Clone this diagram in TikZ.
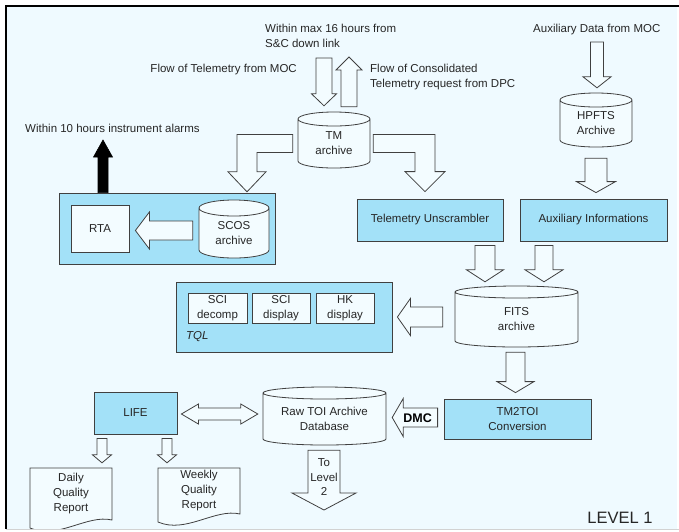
\documentclass[tikz,border=0pt]{standalone}
\usepackage{fontspec}
\setmainfont{Liberation Sans}
\usetikzlibrary{calc}

\definecolor{paper}{RGB}{239,250,255}
\definecolor{boxblue}{RGB}{163,225,248}
\definecolor{pale}{RGB}{243,252,255}
\definecolor{edge}{RGB}{64,64,64}
\definecolor{ink}{RGB}{38,38,38}

% hollow block arrow, vertical: start, tip, shaft half, head half, head length
\newcommand{\vblock}[6][blockarrow]{%
  \draw[#1] let \p1=#2, \p2=#3, \n1={sign(\y2-\y1)}, \n2={\y2-\n1*#6} in
    (\x1-#4,\y1) -- (\x1+#4,\y1) -- (\x1+#4,\n2) -- (\x1+#5,\n2)
    -- (\x1,\y2) -- (\x1-#5,\n2) -- (\x1-#4,\n2) -- cycle;}
% same, horizontal
\newcommand{\hblock}[6][blockarrow]{%
  \draw[#1] let \p1=#2, \p2=#3, \n1={sign(\x2-\x1)}, \n2={\x2-\n1*#6} in
    (\x1,\y1-#4) -- (\x1,\y1+#4) -- (\n2,\y1+#4) -- (\n2,\y1+#5)
    -- (\x2,\y1) -- (\n2,\y1-#5) -- (\n2,\y1-#4) -- cycle;}
% two heads: left tip, right tip, shaft half, head half, head length
\newcommand{\hboth}[5]{%
  \draw[blockarrow] let \p1=#1, \p2=#2 in
    (\x1,\y1) -- (\x1+#5,\y1+#4) -- (\x1+#5,\y1+#3) -- (\x2-#5,\y1+#3) -- (\x2-#5,\y1+#4)
    -- (\x2,\y1) -- (\x2-#5,\y1-#4) -- (\x2-#5,\y1-#3) -- (\x1+#5,\y1-#3) -- (\x1+#5,\y1-#4) -- cycle;}
% band sideways, then down: start, tip, band half, shaft half, head half, head length
\newcommand{\elbow}[6]{%
  \draw[blockarrow] let \p1=#1, \p2=#2, \n1={sign(\x2-\x1)},
      \n2={\x2+\n1*#4}, \n3={\x2-\n1*#4}, \n4={\x2+\n1*#5}, \n5={\x2-\n1*#5} in
    (\x1,\y1+#3) -- (\n2,\y1+#3) -- (\n2,\y2+#6) -- (\n4,\y2+#6)
    -- (\x2,\y2) -- (\n5,\y2+#6) -- (\n3,\y2+#6) -- (\n3,\y1-#3)
    -- (\x1,\y1-#3) -- cycle;}
% archive drum: name, centre, width, height, ellipse radius, text
\newcommand{\drum}[6]{%
  \draw[drumline] let \p1=(#2) in
    (\x1-#3/2,\y1+#4/2) -- (\x1-#3/2,\y1-#4/2+#5)
    arc[start angle=180, end angle=360, x radius=#3/2, y radius=#5]
    -- (\x1+#3/2,\y1+#4/2)
    arc[start angle=0, end angle=180, x radius=#3/2, y radius=#5] -- cycle
    (\x1-#3/2,\y1+#4/2) arc[start angle=180, end angle=360, x radius=#3/2, y radius=#5];
  \node[txt, minimum width=#3, minimum height=#4] (#1) at (#2) {#6};}
% report sheet with wavy foot: name, centre, width, height, text
\newcommand{\sheet}[5]{%
  \draw[sheetline] let \p1=(#2) in
    (\x1-#3/2,\y1+#4/2) -- (\x1+#3/2,\y1+#4/2) -- (\x1+#3/2,\y1-#4/2)
    .. controls (\x1+#3/2-25pt,\y1-#4/2+6pt) and (\x1-#3/2+28pt,\y1-#4/2-20pt) .. (\x1-#3/2,\y1-#4/2-8pt)
    -- cycle;
  \node[txt, minimum width=#3, minimum height=#4] (#1) at (#2) {#5};}

\begin{document}
\begin{tikzpicture}[x=1pt, y=1pt,
  txt/.style={font=\fontsize{11.5}{15}\selectfont, text=ink, inner sep=0pt, align=center},
  bluebox/.style={txt, draw=edge, fill=boxblue, line width=0.8pt},
  palebox/.style={txt, draw=edge, fill=pale, line width=0.8pt},
  blockarrow/.style={draw=edge, fill=pale, line width=0.8pt, line join=miter},
  alarmarrow/.style={draw=black, fill=black, line width=0.6pt},
  drumline/.style={draw=edge, fill=pale, line width=0.8pt},
  sheetline/.style={draw=edge, fill=pale, line width=0.8pt}
]
\useasboundingbox (0,0) rectangle (679,-531);
\fill[paper] (6,-6) rectangle (677,-528.5);
\begin{scope}
\clip (6,-6) rectangle (677,-528.5);
% free ends
\coordinate (tmin) at (324,-58);
\coordinate (tmout) at (349,-57);
\coordinate (auxin) at (597,-42);
\coordinate (alarm) at (103,-140);
\coordinate (lvl2) at (324,-510);

% texts
\node[txt, anchor=west, align=left] (late) at (265,-35.5) {Within max 16 hours from\\S\&C down link};
\node[txt, anchor=east] (tmflow) at (297,-70) {Flow of Telemetry from MOC};
\node[txt, anchor=west, align=left] (dpcflow) at (370,-77.5) {Flow of Consolidated\\Telemetry request from DPC};
\node[txt, anchor=west] (alarmtxt) at (25,-128) {Within 10 hours instrument alarms};
\node[txt, anchor=west] (auxtxt) at (533,-30) {Auxiliary Data from MOC};
\node[txt, font=\fontsize{16.5}{18}\selectfont] (level) at (620,-518) {LEVEL 1};

% boxes
\node[bluebox, minimum width=216pt, minimum height=71pt] (rtabox) at (167,-228.5) {};
\node[palebox, minimum width=58pt, minimum height=47pt] (rta) at (100,-228.5) {RTA};
\node[bluebox, minimum width=216pt, minimum height=70pt] (tql) at (284,-317) {};
\node[palebox, minimum width=59pt, minimum height=30pt] (scidec) at (217.5,-308) {SCI\\decomp};
\node[palebox, minimum width=58pt, minimum height=30pt] (scidisp) at (281,-308) {SCI\\display};
\node[palebox, minimum width=58pt, minimum height=30pt] (hkdisp) at (345,-308) {HK\\display};
\node[txt, font=\fontsize{11.5}{15}\selectfont\itshape, anchor=west] (tqlname) at (186,-337) {TQL};
\node[bluebox, minimum width=146pt, minimum height=42pt] (tu) at (430,-220) {Telemetry Unscrambler};
\node[bluebox, minimum width=147pt, minimum height=42pt] (ai) at (593.5,-220) {Auxiliary Informations};
\node[bluebox, minimum width=147pt, minimum height=40pt] (tm2toi) at (517.5,-419) {TM2TOI\\Conversion};
\node[bluebox, minimum width=83pt, minimum height=42pt] (life) at (135.5,-413) {LIFE};

% archives
\drum{tm}{334,-143.5}{72pt}{49pt}{7pt}{TM\\archive}
\drum{hpfts}{596,-123.5}{72pt}{47pt}{7pt}{HPFTS\\Archive}
\drum{scos}{234,-233}{70pt}{50pt}{8pt}{SCOS\\archive}
\drum{fits}{516.5,-319.5}{123pt}{55pt}{6pt}{FITS\\archive}
\drum{raw}{324.5,-419}{123pt}{52pt}{6pt}{Raw TOI Archive\\Database}

% reports
\sheet{daily}{71,-494}{82pt}{52pt}{Daily\\Quality\\Report}
\sheet{weekly}{199,-491}{82pt}{46pt}{Weekly\\Quality\\Report}

% flows
\vblock{(tmin)}{([yshift=13pt]tm.north)}{8pt}{12.5pt}{12pt}
\vblock{([xshift=15pt,yshift=12pt]tm.north)}{(tmout)}{8pt}{13pt}{13pt}
\elbow{([xshift=-5pt]tm.west)}{([xshift=13pt,yshift=16pt]scos.north)}{9pt}{10pt}{19pt}{20pt}
\elbow{([xshift=3pt]tm.east)}{([xshift=-5pt,yshift=7pt]tu.north)}{9pt}{10pt}{20pt}{20pt}
\vblock[alarmarrow]{([xshift=-64pt]rtabox.north)}{(alarm)}{5pt}{9.5pt}{17pt}
\hblock{([xshift=-6pt,yshift=2.5pt]scos.west)}{([xshift=6pt]rta.east)}{9.5pt}{18.5pt}{14pt}
\vblock{(auxin)}{([yshift=12pt]hpfts.north)}{6.5pt}{14pt}{11pt}
\vblock{([yshift=-11pt]hpfts.south)}{([yshift=6pt]ai.north)}{11pt}{19.5pt}{11pt}
\vblock{([xshift=55pt,yshift=-4pt]tu.south)}{([yshift=10pt]fits.north)}{10pt}{18.5pt}{12pt}
\vblock{([xshift=-49.5pt,yshift=-4pt]ai.south)}{([yshift=10pt]fits.north)}{9pt}{19pt}{12pt}
\hblock{([xshift=-12pt,yshift=2.5pt]fits.west)}{([xshift=5pt]tql.east)}{10pt}{18.5pt}{13pt}
\vblock{([xshift=-1pt,yshift=-5pt]fits.south)}{([yshift=6pt]tm2toi.north)}{9.5pt}{18.5pt}{11pt}
\hblock{([xshift=-6pt,yshift=1.5pt]tm2toi.west)}{([xshift=6pt]raw.east)}{9.5pt}{19pt}{11pt}
\node[txt, font=\fontsize{12.5}{14}\selectfont\bfseries, text=black] (dmc) at ([xshift=-26pt,yshift=1pt]tm2toi.west) {DMC};
\vblock{([xshift=-0.5pt,yshift=-5pt]raw.south)}{(lvl2)}{16pt}{32pt}{17pt}
\node[txt, font=\fontsize{11.5}{14.5}\selectfont] (tolvl) at ([xshift=-0.5pt,yshift=-32pt]raw.south) {To\\Level\\2};
\hboth{([xshift=4pt,yshift=-1pt]life.east)}{([xshift=-5pt]raw.west)}{6pt}{10pt}{17pt}
\vblock{([xshift=-33.5pt,yshift=-4pt]life.south)}{([yshift=5pt]daily.north)}{5pt}{9.5pt}{8pt}
\vblock{([xshift=31.5pt,yshift=-4pt]life.south)}{([yshift=5pt]weekly.north)}{5pt}{9.5pt}{8pt}
\end{scope}
\draw[black, line width=2.4pt] (6,-528.5) -- (6,-6) -- (679,-6);
\draw[gray!35, line width=0.8pt] (6,-528.9) -- (679,-528.9);
\end{tikzpicture}
\end{document}
